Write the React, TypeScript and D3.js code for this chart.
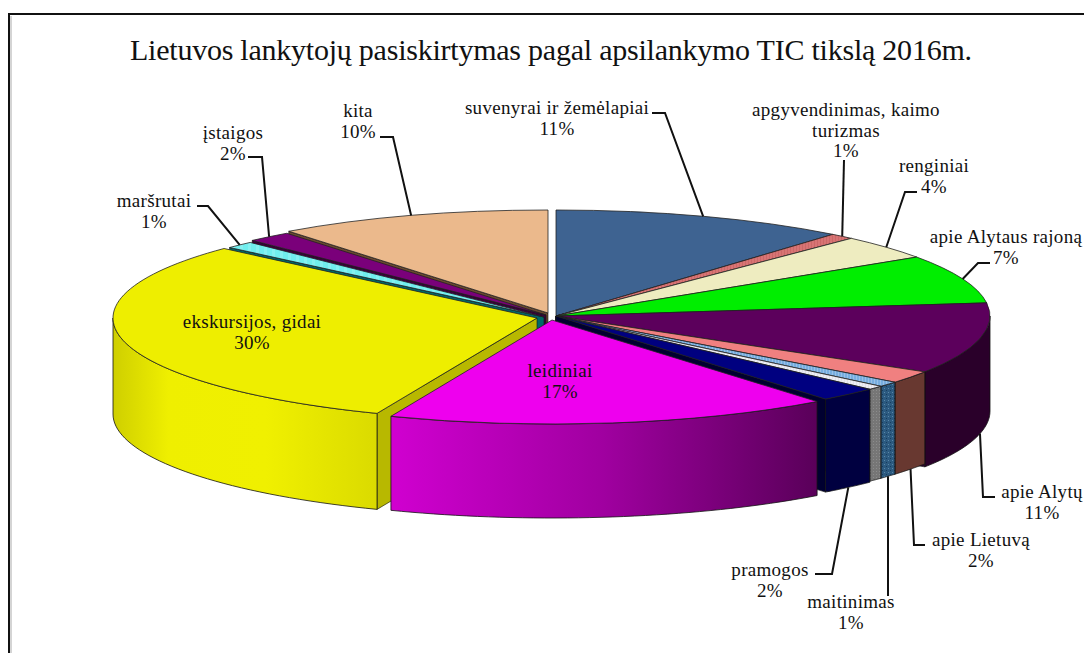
import React from "react";
import * as d3 from "d3";

const W = 1084, H = 653;
const titleText = "Lietuvos lankytojų pasiskirtymas pagal apsilankymo TIC tikslą 2016m.";

// Slice shares (clockwise from 12 o'clock)
const sliceNames = ["suvenyrai ir žemėlapiai","apgyvendinimas, kaimo turizmas","renginiai","apie Alytaus rajoną","apie Alytų","apie Lietuvą","maitinimas","(be pavadinimo)","pramogos","leidiniai","ekskursijos, gidai","maršrutai","įstaigos","kita"];
const sliceValues = [11.0,0.9,3.7,7.4,10.8,1.9,0.8,0.6,2.2,16.8,30.6,1.1,1.7,10.4];
const percentLabels = ["11%","1%","4%","7%","11%","2%","1%","","2%","17%","30%","1%","2%","10%"];

const topFills = ["#3e6391","url(#pSalmon)","#eeecc0","#00ee00","#5c005c","#f08080","url(#pBlueTop)","url(#pGreyTop)","#000080","#ee00ee","#eeee00","url(#pCyan)","#7a007a","#ebb98c"];
const rimFills = ["#24405f","#7a3a3a","#8a8a6a","#007000","#2a002a","#683830","url(#pBlueRim)","url(#pGreyRim)","#000040","url(#gMagenta)","url(#gYellow)","#006868","#3a003a","#6a4a30"];
const wallFills = ["#1f3450","#703030","#7a7a5a","#006000","#2a002a","#582c26","#284a6a","#666","#000030","#5e005e","#b8b800","#006868","#3a003a","#6a4a30"];

// per-slice explosion: offset of centre and ellipse radii
const centerX = [556,556,556,556,556,556,556,556,556,552,537,544,546,548];
const centerY = [316,316,316,316,316,316,316,316,316,320,318,317,315,313];
const radiusX = [434,434,434,434,434,434,434,434,434,427,424,426,426,426];
const radiusY = [106,106,106,106,106,106,106,106,106,104,103,103,103,103];
const depths = [94,94,94,94,95,92,92,92,93,94,96,96,96,96];
const paintOrder = [13,12,11,0,1,2,3,4,10,5,6,7,8,9];

// label placement: [centre x, first baseline] and optional leader elbows
const labelLines: string[][] = [["suvenyrai ir žemėlapiai"],["apgyvendinimas, kaimo","turizmas"],["renginiai"],["apie Alytaus rajoną"],["apie Alytų"],["apie Lietuvą"],["maitinimas"],[],["pramogos"],["leidiniai"],["ekskursijos, gidai"],["maršrutai"],["įstaigos"],["kita"]];
const labelX = [557,846,934,1006,1042,981,851,0,770,560,252,154,233,358];
const labelY = [114,116,172,243,498,546,608,0,576,377,328,207,139,117];
const leaders: (number[][] | null)[] = [
  [[652,113],[665,113]],
  [[844,160]],
  [[917,192],[905,192]],
  [[990,263],[978,263]],
  [[995,497],[983,497]],
  [[925,545],[914,545]],
  [[888,596]],
  null,
  [[815,574],[832,574]],
  null,
  null,
  [[197,206],[208,206]],
  [[248,157],[262,157]],
  [[380,137],[393,137]],
];

const pieGen = d3.pie<number>().sort(null).startAngle(0).endAngle(2 * Math.PI);
const slices = pieGen(sliceValues);
const line = d3.line<[number, number]>();
const pt = (i: number, a: number, drop = 0): [number, number] => [
  centerX[i] + radiusX[i] * Math.sin(a),
  centerY[i] - radiusY[i] * Math.cos(a) + drop,
];

function rimPath(i: number) {
  const a0 = Math.max(slices[i].startAngle, Math.PI / 2);
  const a1 = Math.min(slices[i].endAngle, 1.5 * Math.PI);
  if (a1 <= a0) return null;
  const angles = d3.range(0, 41).map((k) => a0 + ((a1 - a0) * k) / 40);
  const pts = [...angles.map((a) => pt(i, a)), ...angles.slice().reverse().map((a) => pt(i, a, depths[i]))];
  return line(pts) + "Z";
}
function wallPath(i: number, a: number) {
  const c: [number, number] = [centerX[i], centerY[i]];
  const e = pt(i, a);
  return line([c, e, [e[0], e[1] + depths[i]], [c[0], c[1] + depths[i]]]) + "Z";
}
function leaderPath(i: number) {
  const pts = leaders[i];
  if (!pts) return null;
  const s = slices[i];
  const mid = (s.startAngle + s.endAngle) / 2;
  const front = mid > Math.PI / 2 && mid < 1.5 * Math.PI;
  return line([...(pts as [number, number][]), pt(i, mid, front ? depths[i] : 0)]);
}

const serif = "'Liberation Serif','Times New Roman',serif";

export default function App() {
  return (
    <svg width={W} height={H} style={{ position: "absolute", left: 0, top: 0, background: "#fff" }} fontFamily={serif}>
      <defs>
        <linearGradient id="gMagenta" gradientUnits="userSpaceOnUse" x1={391} x2={815} y1={0} y2={0}>
          <stop offset="0" stopColor="#d000d0" />
          <stop offset="0.5" stopColor="#a000a0" />
          <stop offset="1" stopColor="#5a005a" />
        </linearGradient>
        <linearGradient id="gYellow" gradientUnits="userSpaceOnUse" x1={113} x2={391} y1={0} y2={0}>
          <stop offset="0" stopColor="#cfcf00" />
          <stop offset="0.2" stopColor="#efef00" />
          <stop offset="0.55" stopColor="#f0f000" />
          <stop offset="1" stopColor="#d8d800" />
        </linearGradient>
        <pattern id="pSalmon" width="3" height="3" patternUnits="userSpaceOnUse">
          <rect width="3" height="3" fill="#d87474" />
          <rect width="1" height="1" fill="#b05050" />
        </pattern>
        <pattern id="pBlueTop" width="3" height="3" patternUnits="userSpaceOnUse">
          <rect width="3" height="3" fill="#78aee0" />
          <rect width="1" height="1" fill="#d8e8f8" />
        </pattern>
        <pattern id="pGreyTop" width="3" height="3" patternUnits="userSpaceOnUse">
          <rect width="3" height="3" fill="#eeeef4" />
          <rect width="1" height="1" fill="#c8c8d8" />
        </pattern>
        <pattern id="pCyan" width="8" height="3" patternUnits="userSpaceOnUse">
          <rect width="8" height="3" fill="#70eeee" />
          <rect width="3" height="1" fill="#b0f8f8" />
        </pattern>
        <pattern id="pBlueRim" width="4" height="4" patternUnits="userSpaceOnUse">
          <rect width="4" height="4" fill="#2c5a80" />
          <rect width="1" height="1" fill="#5a88a8" />
          <rect x="2" y="2" width="1" height="1" fill="#183c5c" />
        </pattern>
        <pattern id="pGreyRim" width="3" height="3" patternUnits="userSpaceOnUse">
          <rect width="3" height="3" fill="#767676" />
          <rect width="1" height="1" fill="#8c8c8c" />
        </pattern>
      </defs>

      {/* frame */}
      <path d={line([[9, H], [9, 14], [W, 14]]) ?? ""} fill="none" stroke="#111" strokeWidth={2} />
      <path d={line([[11, H], [11, 16]]) ?? ""} fill="none" stroke="#aaa" strokeWidth={1} />

      <text x={551} y={60} textAnchor="middle" fontSize={30} textLength={842} lengthAdjust="spacing" fill="#111">{titleText}</text>

      {paintOrder.map((i) => {
        const s = slices[i];
        const arc = d3.arc<any>().innerRadius(0).outerRadius(radiusX[i]);
        const rim = rimPath(i);
        const k = radiusY[i] / radiusX[i];
        return (
          <g key={sliceNames[i]}>
            {s.startAngle > Math.PI && <path d={wallPath(i, s.startAngle)} fill={wallFills[i]} stroke="#111" strokeWidth={0.6} />}
            {s.endAngle < Math.PI && <path d={wallPath(i, s.endAngle)} fill={wallFills[i]} stroke="#111" strokeWidth={0.6} />}
            {rim && <path d={rim} fill={rimFills[i]} stroke="#111" strokeWidth={0.8} />}
            <path
              d={arc(s) ?? ""}
              transform={`translate(${centerX[i]},${centerY[i]}) scale(1,${k})`}
              fill={topFills[i]}
              stroke="#222"
              strokeWidth={0.8}
              vectorEffect="non-scaling-stroke"
            />
          </g>
        );
      })}

      {sliceValues.map((_, i) => {
        const d = leaderPath(i);
        return d ? <path key={i} d={d} fill="none" stroke="#111" strokeWidth={2} /> : null;
      })}

      {labelLines.map((lines, i) =>
        lines.length === 0 ? null : (
          <text key={i} textAnchor="middle" fontSize={19} fill="#111" letterSpacing={0.3}>
            {[...lines, percentLabels[i]].map((t, j) => (
              <tspan key={j} x={labelX[i]} y={labelY[i] + j * 20.5}>{t}</tspan>
            ))}
          </text>
        )
      )}
    </svg>
  );
}
